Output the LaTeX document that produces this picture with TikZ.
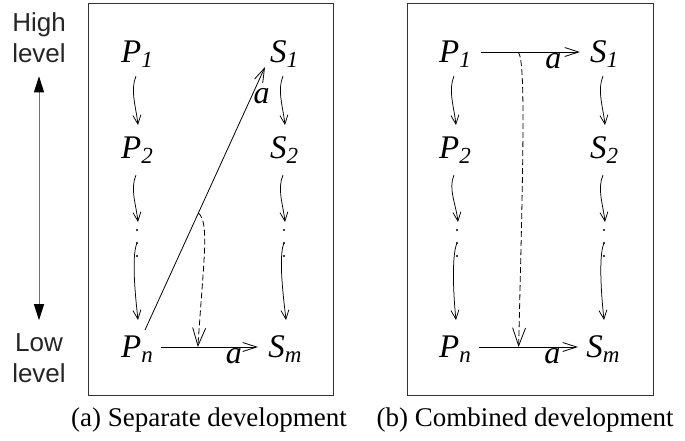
\documentclass[tikz,border=0pt]{standalone}
\usepackage{fontspec}
\setmainfont{Liberation Serif}
\newfontfamily\sansf{Liberation Sans}
\usetikzlibrary{arrows.meta,calc}
\newcommand\mysub[1]{\raisebox{-5.5pt}{\fontsize{23}{23}\selectfont #1}}
\begin{document}
\begin{tikzpicture}[x=1pt,y=-1pt,
  lbl/.style={font=\fontsize{33}{33}\selectfont\itshape, inner sep=0pt, anchor=base},
  alab/.style={font=\fontsize{32}{32}\selectfont\itshape, inner sep=1.5pt},
  frame/.style={draw=black!80, line width=0.9pt},
  wv/.style={-{Straight Barb[length=9pt,width=8pt]}, line width=0.75pt,
    to path={.. controls ($(\tikztostart)+(-6pt,-14pt)$) and ($(\tikztotarget)+(-2pt,18pt)$) .. (\tikztotarget)}},
  ar/.style={-{Straight Barb[length=14pt,width=9pt]}, line width=0.8pt},
  da/.style={dash pattern=on 6pt off 3pt, -{Straight Barb[length=18pt,width=13pt]}, line width=0.8pt},
  dotn/.style={inner sep=0pt, minimum size=0pt},
  side/.style={font=\sansf\fontsize{26}{31}\selectfont, align=center, inner sep=0pt, text=black!85},
  captxt/.style={font=\fontsize{27}{27}\selectfont, inner sep=0pt, anchor=base}
]
\useasboundingbox (0,0) rectangle (685,440);

% side labels
\node[side] (HL) at (39,38) {High\\level};
\node[side] (LL) at (39,358) {Low\\level};
\draw[black!55, line width=1pt,
  {Triangle[length=16pt,width=10pt,color=black]}-{Triangle[length=16pt,width=10pt,color=black]}]
  ([yshift=-13pt]HL.south) -- ([yshift=13pt]LL.north);

% frames
\node[frame, minimum width=245pt, minimum height=392pt, inner sep=0pt] (FA) at (210.5,199) {};
\node[frame, minimum width=246pt, minimum height=392pt, inner sep=0pt] (FB) at (530,199) {};

% (a) nodes
\node[lbl] (P1a) at (137,62) {P\mysub{1}};
\node[lbl] (S1a) at (284,62) {S\mysub{1}};
\node[lbl] (P2a) at (137,158) {P\mysub{2}};
\node[lbl] (S2a) at (284,158) {S\mysub{2}};
\node[dotn] (DPa) at (137,243) {};
\node[dotn] (DSa) at (284,243) {};
\node[lbl] (Pna) at (137,357) {P\mysub{n}};
\node[lbl] (Sma) at (285,357) {S\mysub{m}};

% (b) nodes
\node[lbl] (P1b) at (455,62) {P\mysub{1}};
\node[lbl] (S1b) at (604,62) {S\mysub{1}};
\node[lbl] (P2b) at (455,158) {P\mysub{2}};
\node[lbl] (S2b) at (604,158) {S\mysub{2}};
\node[dotn] (DPb) at (457,243) {};
\node[dotn] (DSb) at (604,243) {};
\node[lbl] (Pnb) at (455,357) {P\mysub{n}};
\node[lbl] (Smb) at (603,357) {S\mysub{m}};

% dots
\foreach \d in {DPa,DSa,DPb,DSb}{
  \foreach \o in {-13,0,13} \fill ($(\d)+(0,\o)$) circle (1.1pt);
}

% wavy refinement arrows
\foreach \a/\b/\c/\e in {P1a/P2a/DPa/Pna, S1a/S2a/DSa/Sma, P1b/P2b/DPb/Pnb, S1b/S2b/DSb/Smb}{
  \draw[wv] ([shift={(-1pt,-14pt)}]\a.base) to ([shift={(1pt,33pt)}]\b.base);
  \draw[wv] ([shift={(-1pt,-17pt)}]\b.base) to ([shift={(1pt,21pt)}]\c);
  \draw[wv] ([shift={(-1pt,-30pt)}]\c) to ([shift={(1pt,37pt)}]\e.base);
}

% (a) transformation arrows
\draw[ar] ([shift={(8pt,27pt)}]Pna.base) -- ([shift={(-19pt,-5pt)}]S1a.base)
  coordinate[pos=0.445] (ma)
  node[alab, pos=0.89, anchor=west] {a};
\draw[ar] ([shift={(24pt,10pt)}]Pna.base) -- ([shift={(-27pt,10pt)}]Sma.base)
  coordinate[pos=0.38] (mb)
  node[alab, pos=0.75, anchor=north] {a};
\draw[da] (ma) .. controls +(11pt,-10pt) and +(6pt,90pt) .. (mb);

% (b) transformation arrows
\draw[ar] ([shift={(26pt,10pt)}]P1b.base) -- ([shift={(-24pt,10pt)}]S1b.base)
  coordinate[pos=0.37] (mc)
  node[alab, pos=0.73, anchor=north] {a};
\draw[ar] ([shift={(24pt,10pt)}]Pnb.base) -- ([shift={(-25pt,10pt)}]Smb.base)
  coordinate[pos=0.40] (md)
  node[alab, pos=0.74, anchor=north] {a};
\draw[da] (mc) .. controls +(8pt,-2pt) and +(5pt,200pt) .. (md);

% captions
\node[captxt] (CA) at (209,426) {(a) Separate development};
\node[captxt] (CB) at (525,426) {(b) Combined development};
\end{tikzpicture}
\end{document}
